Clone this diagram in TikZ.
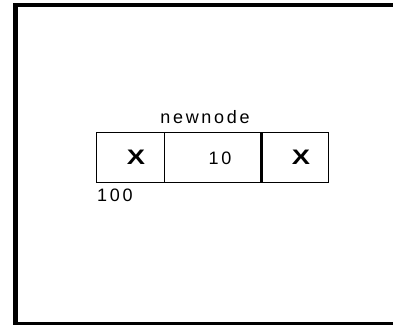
\documentclass[tikz,border=0pt]{standalone}
\usepackage{fontspec}
\setmainfont{Liberation Sans}
\begin{document}
\begin{tikzpicture}[x=1pt,y=-1pt,
  cell/.style={draw=black,line width=1.3pt,minimum height=50pt,inner sep=0pt,anchor=north west},
  lbl/.style={font=\fontsize{18}{19}\selectfont\addfontfeature{LetterSpace=15},inner sep=0pt},
  bigx/.style={font=\fontsize{21}{22}\selectfont\bfseries,xscale=1.3,inner sep=0pt}]
\useasboundingbox (0,0) rectangle (393,325);
\fill[white] (0,0) rectangle (393,325);
% frame
\coordinate (tl) at (15.5,5);
\coordinate (bl) at (15.5,323.5);
\coordinate (tr) at (393,5);
\coordinate (br) at (393,323.5);
\draw[line width=4pt] (tr) -- (13,5);
\draw[line width=5pt] (15.5,3) -- (bl);
\draw[line width=2.5pt] (13,323.5) -- (br);
% cells
\node[cell,minimum width=68pt] (c1) at (96,132) {};
\node[cell,minimum width=96pt] (c2) at (164,132) {};
\node[cell,minimum width=68pt] (c3) at (260,132) {};
\draw[line width=2.6pt] (c2.north east) -- (c2.south east);
\node[bigx] (x1) at (136,157) {X};
\node[bigx] (x2) at (301,157) {X};
\node[lbl] (v) at (220,158) {10};
\node[lbl] (nn) at (205,117.5) {newnode};
\node[lbl,anchor=west] (addr) at (97,195) {100};
\end{tikzpicture}
\end{document}
